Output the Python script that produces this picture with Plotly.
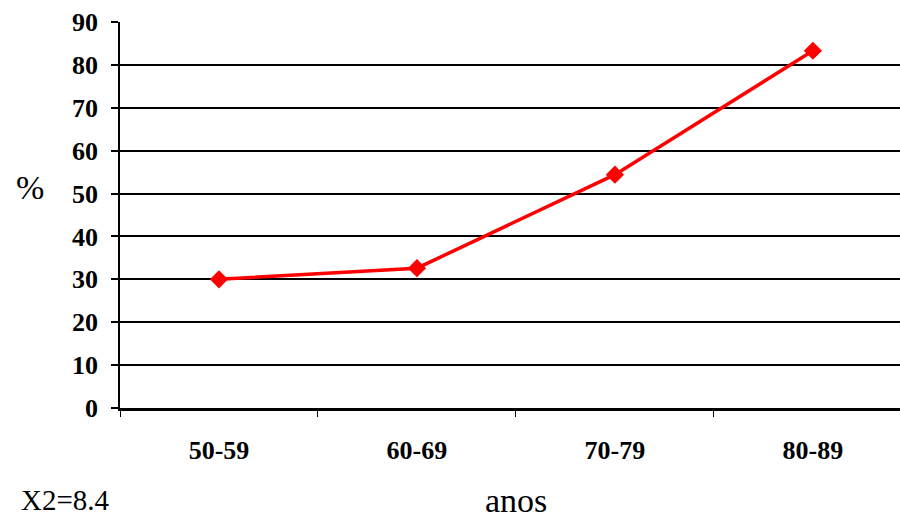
import plotly.graph_objects as go

# Age groups and the share (%) in each
age_groups = ["50-59", "60-69", "70-79", "80-89"]
percent = [30.0, 32.6, 54.4, 83.3]
y_ticks = [0, 10, 20, 30, 40, 50, 60, 70, 80, 90]

W, H = 900, 521
ml, mr, mt, mb = 120, 0, 22, 113
SERIF = "Liberation Serif"
pw, ph = W - ml - mr, H - mt - mb


def px(x, y):
    """Pixel position on the page -> paper coordinates."""
    return (x - ml) / pw, (H - y - mb) / ph


fig = go.Figure()
fig.add_trace(go.Scatter(
    x=age_groups, y=percent, mode="lines+markers",
    line=dict(color="#ff0000", width=3.5),
    marker=dict(symbol="diamond", size=14, color="#ff0000"),
    showlegend=False, cliponaxis=False,
))

tick_font = dict(family=SERIF, size=26, color="black", weight="bold")

fig.update_layout(
    width=W, height=H,
    font=dict(family=SERIF, color="black"),
    margin=dict(l=ml, r=mr, t=mt, b=mb),
    paper_bgcolor="white", plot_bgcolor="white",
    xaxis=dict(
        type="category", range=[-0.5, 3.44], tickson="boundaries",
        ticks="outside", ticklen=6, tickwidth=1, tickcolor="black",
        showgrid=False, showline=True, linecolor="black", linewidth=2.5,
        tickfont=tick_font, ticklabelstandoff=17,
    ),
    yaxis=dict(
        range=[0, 90], tickvals=y_ticks, ticktext=[str(v) for v in y_ticks],
        ticks="outside", ticklen=7, tickwidth=1.5, tickcolor="black",
        showgrid=True, gridcolor="black", gridwidth=1.6,
        zeroline=False, showline=True, linecolor="black", linewidth=1.5,
        tickfont=tick_font, ticklabelstandoff=8,
    ),
)

# (text, x px, y px, font size, x anchor, y anchor)
labels = [
    ("%", 30, 187, 34, "center", "middle"),
    ("anos", 516, 520, 34, "center", "bottom"),
    ("X2=8.4", 20, 500, 29, "left", "middle"),
]
for text, x, y, size, xa, ya in labels:
    ax, ay = px(x, y)
    fig.add_annotation(text=text, x=ax, y=ay, xref="paper", yref="paper", showarrow=False,
                       xanchor=xa, yanchor=ya, borderpad=0,
                       font=dict(family=SERIF, size=size, color="black"))

fig.write_html("out.html")
